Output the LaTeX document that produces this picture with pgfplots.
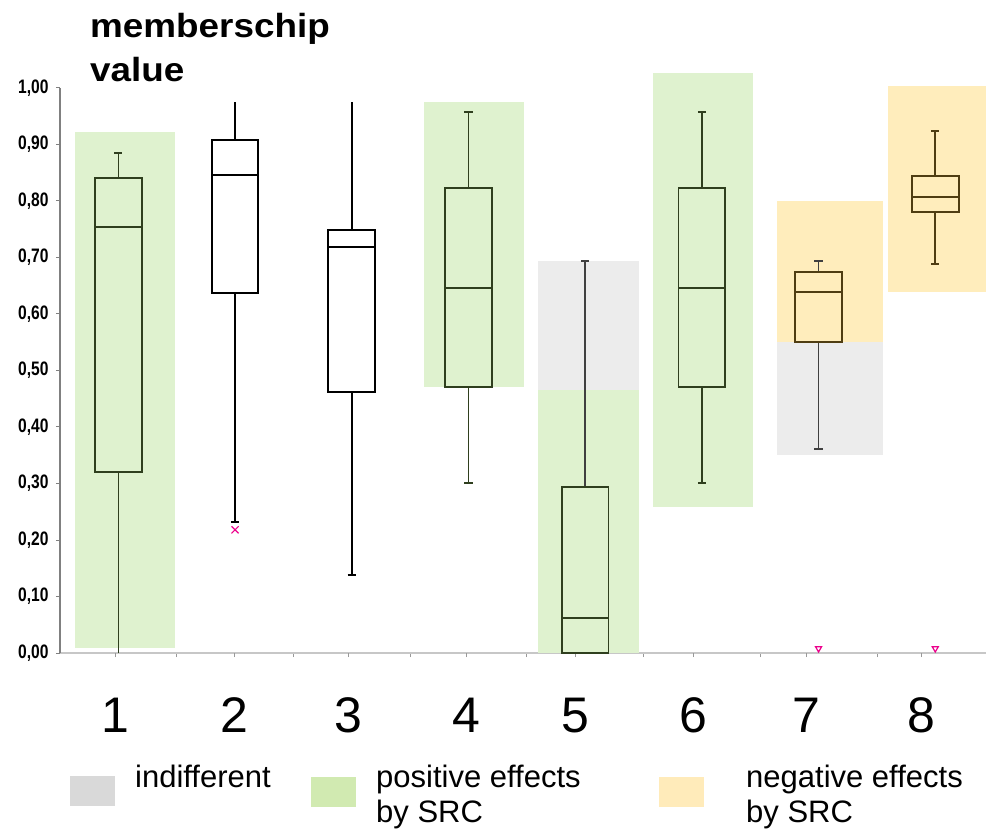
\documentclass[border=0pt]{standalone}
\usepackage{fontspec}
\setmainfont{Liberation Sans}
\newfontface\tickface[FakeStretch=0.8]{Liberation Sans Bold}
\newfontface\titleface[FakeStretch=1.1]{Liberation Sans Bold}
\usepackage{pgfplots}
\pgfplotsset{compat=1.18}
\usepgfplotslibrary{statistics}
\definecolor{bggreen}{HTML}{DFF2CF}
\definecolor{bggrey}{HTML}{ECECEC}
\definecolor{bgyellow}{HTML}{FFEDBC}
\definecolor{lggrey}{HTML}{D9D9D9}
\definecolor{lggreen}{HTML}{D1EAB1}
\definecolor{lgyellow}{HTML}{FFEBBA}
\definecolor{dgreen}{HTML}{2F3F1E}
\definecolor{dbrown}{HTML}{4F3D12}
\definecolor{dgrey}{HTML}{404040}
\pgfplotsset{
  nocapup/.style={boxplot/draw/upper whisker/.code={%
    \draw[/pgfplots/boxplot/every whisker/.try]
      (boxplot cs:\pgfplotsboxplotvalue{upper quartile}) --
      (boxplot cs:\pgfplotsboxplotvalue{upper whisker});}},
  nocaplow/.style={boxplot/draw/lower whisker/.code={%
    \draw[/pgfplots/boxplot/every whisker/.try]
      (boxplot cs:\pgfplotsboxplotvalue{lower quartile}) --
      (boxplot cs:\pgfplotsboxplotvalue{lower whisker});}},
}
\begin{document}
\begin{tikzpicture}
\path[use as bounding box] (0pt,0pt) rectangle (986pt,831pt);
\begin{axis}[
  at={(60pt,178pt)}, anchor=south west,
  x=116.7pt, y=565pt,
  xmin=0, xmax=7.935, ymin=0, ymax=1,
  clip=false,
  axis x line=bottom, axis y line=left,
  x axis line style={-, draw=black!22, line width=1.6pt},
  y axis line style={-, draw=black!50, line width=1.2pt},
  tick align=outside,
  major tick length=4pt,
  xtick={1,2,3,4,5,6,7},
  xticklabels={},
  x tick style={draw=black!40, line width=0.8pt},
  extra x ticks={0.471,1.491,2.468,3.479,4.413,5.424,6.392,7.378},
  extra x tick labels={1,2,3,4,5,6,7,8},
  extra x tick style={major tick style={draw=none},
     xticklabel style={font=\fontsize{50}{50}\selectfont, anchor=base, yshift=-75pt}},
  ytick={0,0.1,0.2,0.3,0.4,0.5,0.6,0.7,0.8,0.9,1},
  yticklabels={{0,00},{0,10},{0,20},{0,30},{0,40},{0,50},{0,60},{0,70},{0,80},{0,90},{1,00}},
  y tick style={draw=black!50, line width=1pt},
  yticklabel style={font=\tickface\fontsize{19.5}{19.5}\selectfont, anchor=east, xshift=-4pt},
  boxplot/draw direction=y,
  boxplot/box extend=0.4,
  boxplot/whisker extend=0.07,
  boxplot/every box/.style={line width=1.9pt},
  boxplot/every median/.style={line width=1.9pt},
]
% background regions
\addplot[fill=bggreen, draw=none] coordinates {(0.129,0.009) (0.985,0.009) (0.985,0.922) (0.129,0.922)} -- cycle;
\addplot[fill=bggreen, draw=none] coordinates {(3.119,0.471) (3.976,0.471) (3.976,0.975) (3.119,0.975)} -- cycle;
\addplot[fill=bggrey, draw=none] coordinates {(4.096,0.465) (4.961,0.465) (4.961,0.694) (4.096,0.694)} -- cycle;
\addplot[fill=bggreen, draw=none] coordinates {(4.096,0.0) (4.961,0.0) (4.961,0.465) (4.096,0.465)} -- cycle;
\addplot[fill=bggreen, draw=none] coordinates {(5.081,0.259) (5.938,0.259) (5.938,1.027) (5.081,1.027)} -- cycle;
\addplot[fill=bgyellow, draw=none] coordinates {(6.144,0.550) (7.052,0.550) (7.052,0.800) (6.144,0.800)} -- cycle;
\addplot[fill=bggrey, draw=none] coordinates {(6.144,0.350) (7.052,0.350) (7.052,0.550) (6.144,0.550)} -- cycle;
\addplot[fill=bgyellow, draw=none] coordinates {(7.095,0.639) (7.935,0.639) (7.935,1.004) (7.095,1.004)} -- cycle;
% box plots
\addplot[draw=dgreen, line width=1.6pt, nocaplow, boxplot/every whisker/.style={line width=1.6pt},
  boxplot prepared={draw position=0.5, lower whisker=0, lower quartile=0.320, median=0.754, upper quartile=0.841, upper whisker=0.885}] coordinates {};
\addplot[draw=black, line width=1.6pt, nocapup, boxplot/every whisker/.style={line width=1.6pt},
  boxplot prepared={draw position=1.5, lower whisker=0.232, lower quartile=0.637, median=0.846, upper quartile=0.908, upper whisker=0.975}] coordinates {};
\addplot[draw=black, line width=1.6pt, nocapup, boxplot/every whisker/.style={line width=1.6pt},
  boxplot prepared={draw position=2.5, lower whisker=0.138, lower quartile=0.462, median=0.718, upper quartile=0.749, upper whisker=0.975}] coordinates {};
\addplot[draw=dgreen, line width=1.6pt, boxplot/every whisker/.style={line width=1.6pt},
  boxplot prepared={draw position=3.5, lower whisker=0.301, lower quartile=0.471, median=0.646, upper quartile=0.823, upper whisker=0.958}] coordinates {};
\addplot[draw=dgreen, line width=1.6pt, nocaplow, boxplot/every whisker/.style={line width=1.6pt, draw=dgrey},
  boxplot prepared={draw position=4.5, lower whisker=0, lower quartile=0, median=0.062, upper quartile=0.294, upper whisker=0.694}] coordinates {};
\addplot[draw=dgreen, line width=1.6pt, boxplot/every whisker/.style={line width=1.6pt},
  boxplot prepared={draw position=5.5, lower whisker=0.301, lower quartile=0.471, median=0.646, upper quartile=0.823, upper whisker=0.958}] coordinates {};
\addplot[draw=dbrown, line width=1.6pt, boxplot/every whisker/.style={line width=1.6pt, draw=dgrey},
  boxplot prepared={draw position=6.5, lower whisker=0.361, lower quartile=0.550, median=0.639, upper quartile=0.674, upper whisker=0.694}] coordinates {};
\addplot[draw=dbrown, line width=1.6pt, boxplot/every whisker/.style={line width=1.6pt},
  boxplot prepared={draw position=7.5, lower whisker=0.688, lower quartile=0.781, median=0.807, upper quartile=0.844, upper whisker=0.924}] coordinates {};
% outliers
\addplot[only marks, mark=x, mark size=5pt, color=magenta, line width=1.2pt] coordinates {(1.5,0.218)};
\addplot[only marks, mark=triangle, mark options={rotate=180}, mark size=3.5pt, color=magenta, line width=1.2pt] coordinates {(6.5,0.008) (7.5,0.008)};
\end{axis}
% title
\node[anchor=base west, inner sep=0pt] at (90pt,793pt) {\titleface\fontsize{33.5}{33.5}\selectfont memberschip};
\node[anchor=base west, inner sep=0pt] at (90pt,749pt) {\titleface\fontsize{33.5}{33.5}\selectfont value};
% legend
\fill[lggrey] (70pt,25pt) rectangle (115pt,55pt);
\fill[lggreen] (311pt,24pt) rectangle (356pt,54pt);
\fill[lgyellow] (659pt,24pt) rectangle (704pt,54pt);
\node[anchor=base west, inner sep=0pt] at (135pt,44pt) {\fontsize{31}{31}\selectfont indifferent};
\node[anchor=base west, inner sep=0pt] at (376pt,44pt) {\fontsize{31}{31}\selectfont positive effects};
\node[anchor=base west, inner sep=0pt] at (376pt,9pt) {\fontsize{31}{31}\selectfont by SRC};
\node[anchor=base west, inner sep=0pt] at (746pt,44pt) {\fontsize{31}{31}\selectfont negative effects};
\node[anchor=base west, inner sep=0pt] at (746pt,9pt) {\fontsize{31}{31}\selectfont by SRC};
\end{tikzpicture}
\end{document}
